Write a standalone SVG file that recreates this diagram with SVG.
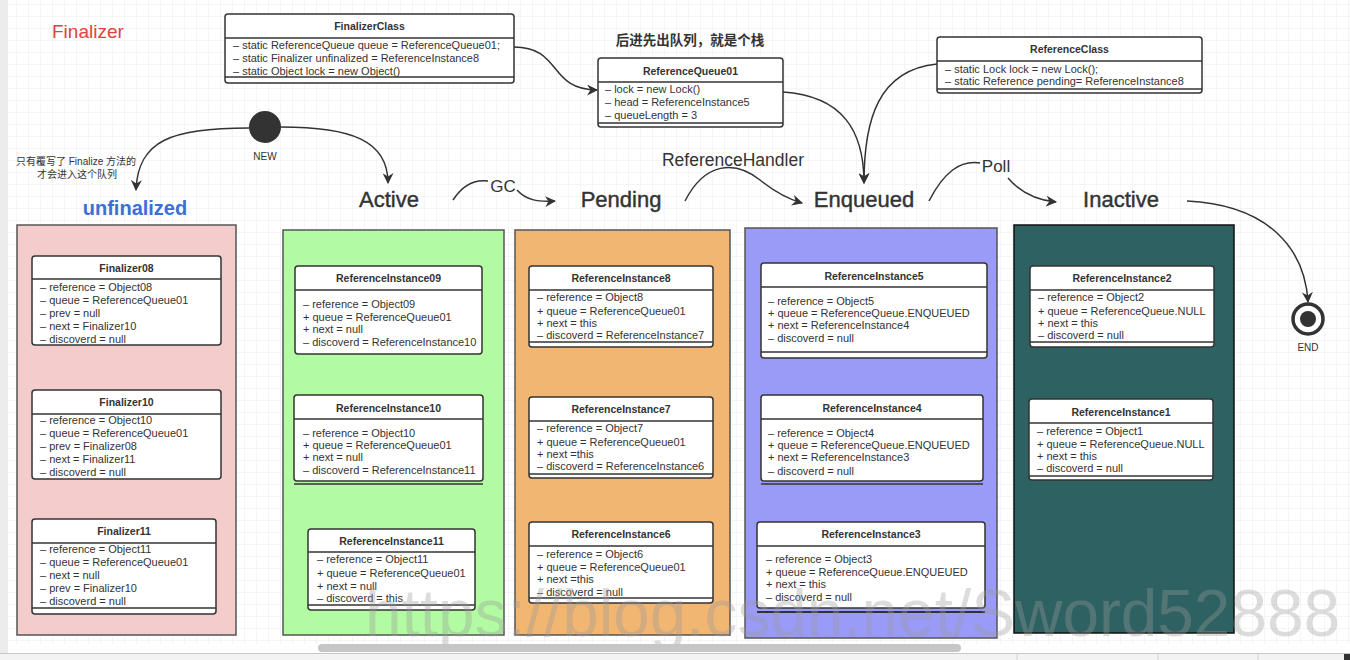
<svg xmlns="http://www.w3.org/2000/svg" width="1350" height="660" viewBox="0 0 1350 660">
<style>
.box{fill:#fff;stroke:#333;stroke-width:1.5}
.ln{stroke:#333;stroke-width:1.5;fill:none}
.t{font-family:"Liberation Sans",Arial,sans-serif;font-size:11px;fill:#333}
.h{font-family:"Liberation Sans",Arial,sans-serif;font-size:10.5px;font-weight:bold;fill:#333;text-anchor:middle}
.st{font-family:"Liberation Sans",Arial,sans-serif;font-size:22px;fill:#333;stroke:#333;stroke-width:0.4;text-anchor:middle}
.lb{font-family:"Liberation Sans",Arial,sans-serif;font-size:17px;fill:#333;text-anchor:middle}
.sm{font-family:"Liberation Sans","Noto Sans CJK SC",sans-serif;font-size:10px;fill:#333;text-anchor:middle}
.edge{fill:none;stroke:#333;stroke-width:1.5}
.col{stroke:#555;stroke-width:1.5}
</style>
<defs>
<pattern id="grid" x="4" y="4" width="12" height="12" patternUnits="userSpaceOnUse"><path d="M12 0 L0 0 0 12" fill="none" stroke="#ebebeb" stroke-width="1"/></pattern>
<marker id="arr" viewBox="0 0 10 10" refX="9" refY="5" markerWidth="11" markerHeight="11" markerUnits="userSpaceOnUse" orient="auto"><path d="M0,0 L10,5 L0,10 L3,5 z" fill="#333"/></marker>
</defs>
<rect width="1350" height="660" fill="#fff"/>
<rect x="0" y="0" width="1350" height="645" fill="url(#grid)"/>
<rect x="0" y="0" width="8" height="653" fill="#ececec"/>

<text x="52" y="38" font-family="Liberation Sans,Arial,sans-serif" font-size="19" fill="#e04040">Finalizer</text>

<g id="FinalizerClass">
<rect class="box" x="225" y="14" width="289" height="69" rx="3"/>
<line class="ln" x1="225" y1="38" x2="514" y2="38"/>
<line class="ln" x1="225" y1="77" x2="514" y2="77"/>
<text class="h" x="369.5" y="30">FinalizerClass</text>
<text class="t" x="233" y="49">– static ReferenceQueue queue = ReferenceQueue01;</text>
<text class="t" x="233" y="62">– static Finalizer unfinalized = ReferenceInstance8</text>
<text class="t" x="233" y="75">– static Object lock = new Object()</text>
</g>

<g id="ReferenceQueue01">
<text x="690" y="45" text-anchor="middle" font-family="Noto Sans CJK SC,sans-serif" font-size="13.5" font-weight="bold" fill="#333">后进先出队列，就是个栈</text>
<rect class="box" x="598" y="58" width="185" height="69" rx="3"/>
<line class="ln" x1="598" y1="82" x2="783" y2="82"/>
<line class="ln" x1="598" y1="123" x2="783" y2="123"/>
<text class="h" x="690.5" y="75">ReferenceQueue01</text>
<text class="t" x="605" y="93">– lock = new Lock()</text>
<text class="t" x="605" y="106">– head = ReferenceInstance5</text>
<text class="t" x="605" y="119">– queueLength = 3</text>
</g>

<g id="ReferenceClass">
<rect class="box" x="937" y="37" width="265" height="56" rx="3"/>
<line class="ln" x1="937" y1="61" x2="1202" y2="61"/>
<line class="ln" x1="937" y1="89" x2="1202" y2="89"/>
<text class="h" x="1069.5" y="53">ReferenceClass</text>
<text class="t" x="945" y="73">– static Lock lock = new Lock();</text>
<text class="t" x="945" y="85">– static Reference pending= ReferenceInstance8</text>
</g>

<g id="NEW">
<circle cx="265" cy="127" r="16" fill="#333"/>
<text class="sm" x="265" y="160">NEW</text>
</g>

<g id="END">
<circle cx="1308" cy="319" r="15" fill="#fff" stroke="#333" stroke-width="3.5"/>
<circle cx="1308" cy="319" r="8" fill="#333"/>
<text class="sm" x="1308" y="351">END</text>
</g>

<g id="labels">
<text class="sm" x="76" y="165">只有覆写了 Finalize 方法的</text>
<text class="sm" x="77" y="178">才会进入这个队列</text>
<text x="135" y="215" text-anchor="middle" font-family="Liberation Sans,Arial,sans-serif" font-size="20" font-weight="bold" fill="#3a6fd8">unfinalized</text>
<text class="st" x="389" y="207">Active</text>
<text class="st" x="621" y="207">Pending</text>
<text class="st" x="864" y="207">Enqueued</text>
<text class="st" x="1121" y="207">Inactive</text>
<text class="lb" x="503" y="192">GC</text>
<text x="733" y="166" text-anchor="middle" font-family="Liberation Sans,Arial,sans-serif" font-size="17.5" fill="#333">ReferenceHandler</text>
<text class="lb" x="996" y="172">Poll</text>
</g>

<g id="connectors">
<path class="edge" d="M514,47 C562,47 548,90 597,90" marker-end="url(#arr)"/>
<path class="edge" d="M783,92 C842,96 864,130 864,183" marker-end="url(#arr)"/>
<path class="edge" d="M937,64 C878,70 864,120 864,183" marker-end="url(#arr)"/>
<path class="edge" d="M249,128 C172,128 138,140 136,190" marker-end="url(#arr)"/>
<path class="edge" d="M281,127 C350,127 388,140 388,183" marker-end="url(#arr)"/>
<path class="edge" d="M453,200 C462,186 474,179 488,181"/>
<path class="edge" d="M517,190 C526,200 537,202 555,201" marker-end="url(#arr)"/>
<path class="edge" d="M685,201 C705,162 735,160 760,180 C775,192 788,199 802,203" marker-end="url(#arr)"/>
<path class="edge" d="M929,201 C944,172 960,160 980,163"/>
<path class="edge" d="M1008,178 C1020,192 1035,200 1056,202" marker-end="url(#arr)"/>
<path class="edge" d="M1187,201 C1270,205 1305,250 1308,302" marker-end="url(#arr)"/>
</g>

<g id="unfinalized">
<rect class="col" x="17" y="225" width="219" height="410" fill="#f4cccc"/>
<g id="Finalizer08">
<rect class="box" x="32" y="256" width="189" height="89" rx="3"/>
<line class="ln" x1="32" y1="279" x2="221" y2="279"/>
<text class="h" x="126.5" y="272">Finalizer08</text>
<text class="t" x="40" y="291">– reference = Object08</text>
<text class="t" x="40" y="304">– queue = ReferenceQueue01</text>
<text class="t" x="40" y="317">– prev = null</text>
<text class="t" x="40" y="330">– next = Finalizer10</text>
<text class="t" x="40" y="343">– discoverd = null</text>
</g>
<g id="Finalizer10">
<rect class="box" x="32" y="390" width="189" height="89" rx="3"/>
<line class="ln" x1="32" y1="414" x2="221" y2="414"/>
<text class="h" x="126.5" y="406">Finalizer10</text>
<text class="t" x="40" y="424">– reference = Object10</text>
<text class="t" x="40" y="437">– queue = ReferenceQueue01</text>
<text class="t" x="40" y="450">– prev = Finalizer08</text>
<text class="t" x="40" y="463">– next = Finalizer11</text>
<text class="t" x="40" y="476">– discoverd = null</text>
</g>
<g id="Finalizer11">
<rect class="box" x="32" y="519" width="184" height="95" rx="3"/>
<line class="ln" x1="32" y1="543" x2="216" y2="543"/>
<line class="ln" x1="32" y1="608" x2="216" y2="608"/>
<text class="h" x="124" y="535">Finalizer11</text>
<text class="t" x="40" y="553">– reference = Object11</text>
<text class="t" x="40" y="566">– queue = ReferenceQueue01</text>
<text class="t" x="40" y="579">– next = null</text>
<text class="t" x="40" y="592">– prev = Finalizer10</text>
<text class="t" x="40" y="605">– discoverd = null</text>
</g>
</g>

<g id="Active">
<rect class="col" x="283" y="230" width="221" height="405" fill="#b3fba3"/>
<g id="ReferenceInstance09">
<rect class="box" x="295" y="266" width="187" height="88" rx="3"/>
<line class="ln" x1="295" y1="290" x2="482" y2="290"/>
<text class="h" x="388.5" y="282">ReferenceInstance09</text>
<text class="t" x="303" y="308">– reference = Object09</text>
<text class="t" x="303" y="321">+ queue = ReferenceQueue01</text>
<text class="t" x="303" y="333">+ next = null</text>
<text class="t" x="303" y="346">– discoverd = ReferenceInstance10</text>
</g>
<g id="ReferenceInstance10">
<rect class="box" x="294" y="395" width="189" height="86" rx="3"/>
<line class="ln" x1="294" y1="419" x2="483" y2="419"/>
<line class="ln" x1="294" y1="484" x2="483" y2="484"/>
<text class="h" x="388.5" y="412">ReferenceInstance10</text>
<text class="t" x="303" y="437">– reference = Object10</text>
<text class="t" x="303" y="449">+ queue = ReferenceQueue01</text>
<text class="t" x="303" y="461">+ next = null</text>
<text class="t" x="303" y="474">– discoverd = ReferenceInstance11</text>
</g>
<g id="ReferenceInstance11">
<rect class="box" x="308" y="529" width="167" height="81" rx="3"/>
<line class="ln" x1="308" y1="552" x2="475" y2="552"/>
<line class="ln" x1="308" y1="605" x2="475" y2="605"/>
<text class="h" x="391.5" y="545">ReferenceInstance11</text>
<text class="t" x="317" y="563">– reference = Object11</text>
<text class="t" x="317" y="577">+ queue = ReferenceQueue01</text>
<text class="t" x="317" y="590">+ next = null</text>
<text class="t" x="317" y="602">– discoverd = this</text>
</g>
</g>

<g id="Pending">
<rect class="col" x="515" y="230" width="215" height="405" fill="#f0b672"/>
<g id="ReferenceInstance8">
<rect class="box" x="529" y="266" width="184" height="81" rx="3"/>
<line class="ln" x1="529" y1="290" x2="713" y2="290"/>
<line class="ln" x1="529" y1="342" x2="713" y2="342"/>
<text class="h" x="621" y="282">ReferenceInstance8</text>
<text class="t" x="537" y="301">– reference = Object8</text>
<text class="t" x="537" y="315">+ queue = ReferenceQueue01</text>
<text class="t" x="537" y="327">+ next = this</text>
<text class="t" x="537" y="339">– discoverd = ReferenceInstance7</text>
</g>
<g id="ReferenceInstance7">
<rect class="box" x="529" y="397" width="184" height="81" rx="3"/>
<line class="ln" x1="529" y1="421" x2="713" y2="421"/>
<line class="ln" x1="529" y1="474" x2="713" y2="474"/>
<text class="h" x="621" y="413">ReferenceInstance7</text>
<text class="t" x="537" y="432">– reference = Object7</text>
<text class="t" x="537" y="446">+ queue = ReferenceQueue01</text>
<text class="t" x="537" y="458">+ next =this</text>
<text class="t" x="537" y="470">– discoverd = ReferenceInstance6</text>
</g>
<g id="ReferenceInstance6">
<rect class="box" x="529" y="522" width="184" height="81" rx="3"/>
<line class="ln" x1="529" y1="546" x2="713" y2="546"/>
<line class="ln" x1="529" y1="598" x2="713" y2="598"/>
<text class="h" x="621" y="538">ReferenceInstance6</text>
<text class="t" x="537" y="558">– reference = Object6</text>
<text class="t" x="537" y="571">+ queue = ReferenceQueue01</text>
<text class="t" x="537" y="583">+ next =this</text>
<text class="t" x="537" y="596">– discoverd = null</text>
</g>
</g>

<g id="Enqueued">
<rect class="col" x="745" y="228" width="252" height="410" fill="#9a9af7"/>
<g id="ReferenceInstance5">
<rect class="box" x="761" y="263" width="226" height="95" rx="3"/>
<line class="ln" x1="761" y1="287" x2="987" y2="287"/>
<line class="ln" x1="761" y1="352" x2="987" y2="352"/>
<text class="h" x="874" y="280">ReferenceInstance5</text>
<text class="t" x="768" y="305">– reference = Object5</text>
<text class="t" x="768" y="317">+ queue = ReferenceQueue.ENQUEUED</text>
<text class="t" x="768" y="329">+ next = ReferenceInstance4</text>
<text class="t" x="768" y="342">– discoverd = null</text>
</g>
<g id="ReferenceInstance4">
<rect class="box" x="761" y="395" width="222" height="86" rx="3"/>
<line class="ln" x1="761" y1="419" x2="983" y2="419"/>
<line class="ln" x1="761" y1="484" x2="983" y2="484"/>
<text class="h" x="872" y="412">ReferenceInstance4</text>
<text class="t" x="768" y="437">– reference = Object4</text>
<text class="t" x="768" y="449">+ queue = ReferenceQueue.ENQUEUED</text>
<text class="t" x="768" y="461">+ next = ReferenceInstance3</text>
<text class="t" x="768" y="475">– discoverd = null</text>
</g>
<g id="ReferenceInstance3">
<rect class="box" x="757" y="522" width="228" height="86" rx="3"/>
<line class="ln" x1="757" y1="546" x2="985" y2="546"/>
<line x1="757" y1="612" x2="985" y2="612" stroke="#333" stroke-width="2"/>
<text class="h" x="871" y="538">ReferenceInstance3</text>
<text class="t" x="766" y="563">– reference = Object3</text>
<text class="t" x="766" y="576">+ queue = ReferenceQueue.ENQUEUED</text>
<text class="t" x="766" y="588">+ next = this</text>
<text class="t" x="766" y="601">– discoverd = null</text>
</g>
</g>

<g id="Inactive">
<rect x="1014" y="225" width="220" height="408" fill="#2e6262" stroke="#111" stroke-width="1.5"/>
<g id="ReferenceInstance2">
<rect class="box" x="1030" y="266" width="184" height="81" rx="3"/>
<line class="ln" x1="1030" y1="290" x2="1214" y2="290"/>
<line class="ln" x1="1030" y1="342" x2="1214" y2="342"/>
<text class="h" x="1122" y="282">ReferenceInstance2</text>
<text class="t" x="1038" y="301">– reference = Object2</text>
<text class="t" x="1038" y="315">+ queue = ReferenceQueue.NULL</text>
<text class="t" x="1038" y="327">+ next = this</text>
<text class="t" x="1038" y="339">– discoverd = null</text>
</g>
<g id="ReferenceInstance1">
<rect class="box" x="1029" y="399" width="184" height="81" rx="3"/>
<line class="ln" x1="1029" y1="423" x2="1213" y2="423"/>
<line class="ln" x1="1029" y1="476" x2="1213" y2="476"/>
<text class="h" x="1121" y="416">ReferenceInstance1</text>
<text class="t" x="1037" y="435">– reference = Object1</text>
<text class="t" x="1037" y="448">+ queue = ReferenceQueue.NULL</text>
<text class="t" x="1037" y="460">+ next = this</text>
<text class="t" x="1037" y="472">– discoverd = null</text>
</g>
</g>

<text x="365" y="636" font-family="Liberation Sans,Arial,sans-serif" font-size="66" fill="#9a9a9a" fill-opacity="0.35" textLength="975" lengthAdjust="spacingAndGlyphs">https://blog.csdn.net/Sword52888</text>

<rect x="0" y="653" width="1350" height="7" fill="#f3f3f3"/>
<line x1="0" y1="653.5" x2="1350" y2="653.5" stroke="#c9c9c9"/>
<line x1="1017" y1="654" x2="1017" y2="660" stroke="#d0d0d0"/>
<line x1="1158" y1="654" x2="1158" y2="660" stroke="#d0d0d0"/>
<line x1="1258" y1="654" x2="1258" y2="660" stroke="#d0d0d0"/>
<rect x="1344" y="654" width="6" height="6" fill="#333"/>
<rect x="318" y="644" width="643" height="8" rx="4" fill="#c6c6c6"/>
</svg>
